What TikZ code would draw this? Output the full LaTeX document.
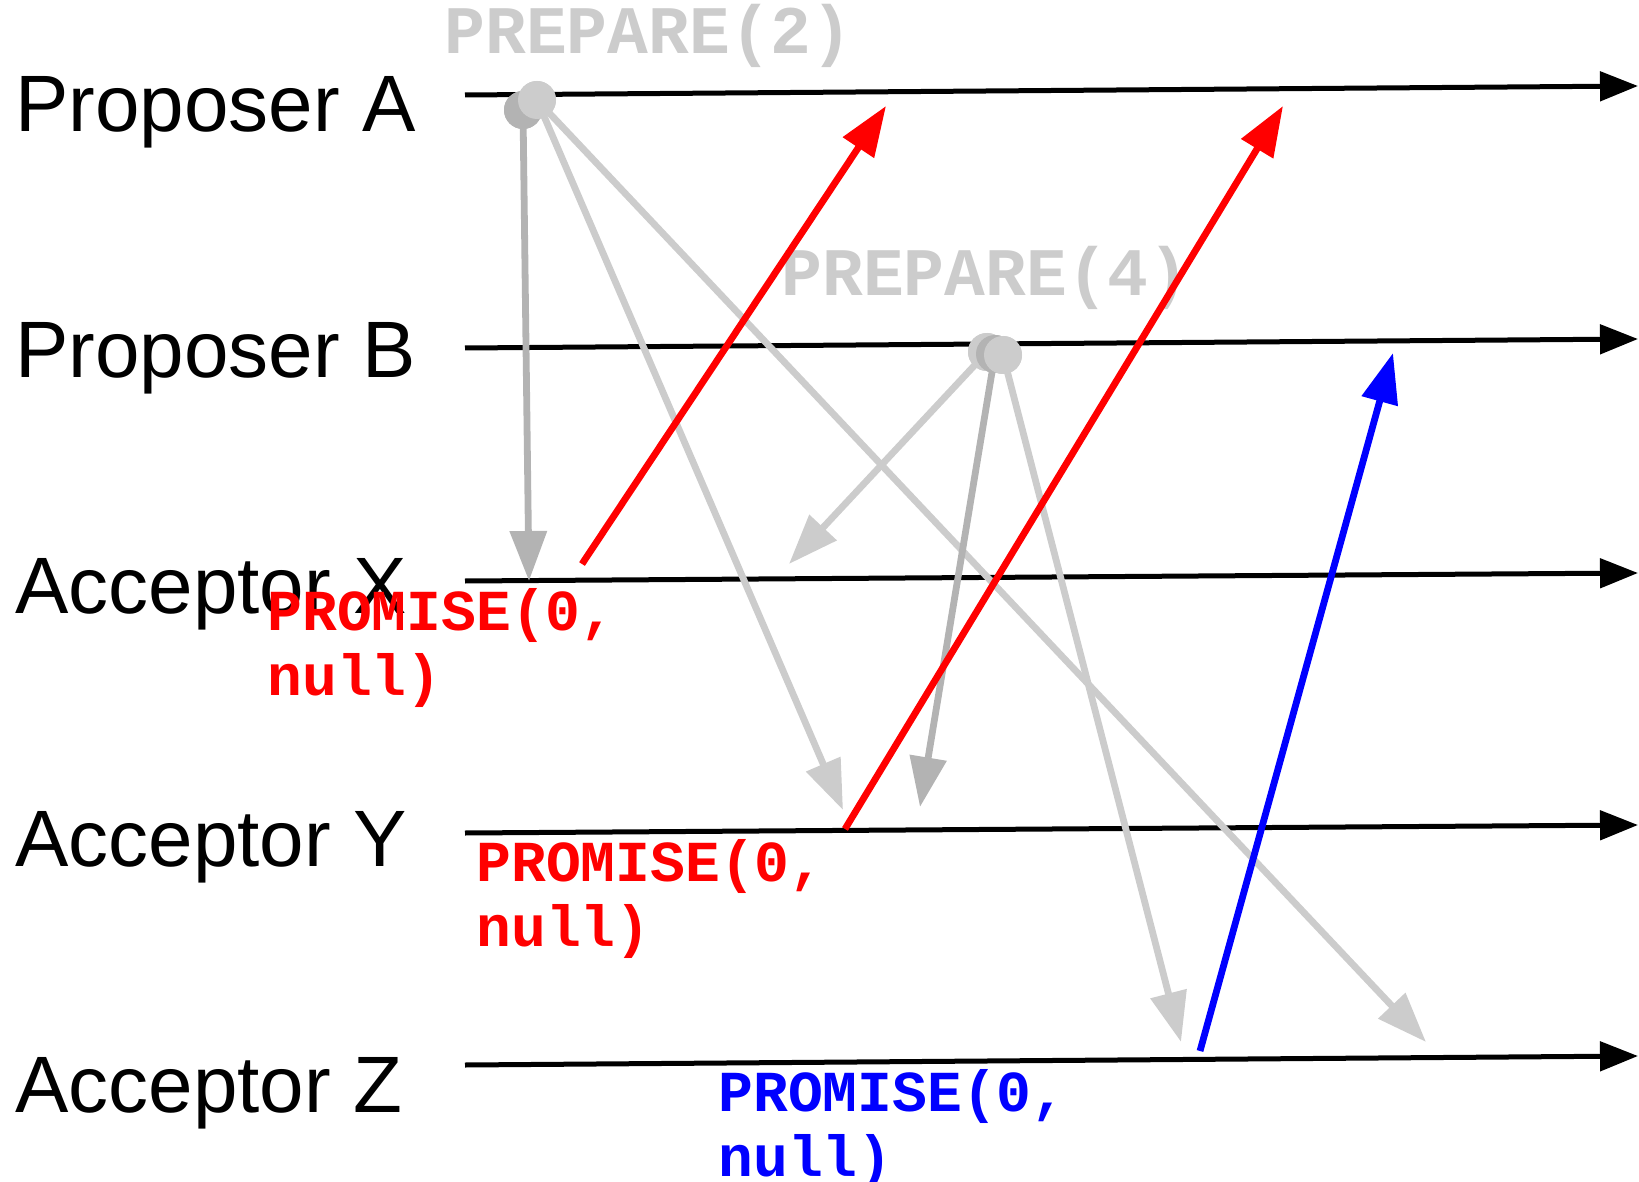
\documentclass[tikz,border=0pt]{standalone}
\usepackage{fontspec}
\setmainfont{Liberation Sans}
\newfontfamily\msgfont{Liberation Mono}
\usetikzlibrary{arrows.meta}
\definecolor{prepGray}{RGB}{204,204,204}
\definecolor{prepDark}{RGB}{179,179,179}
\definecolor{promRed}{RGB}{255,0,0}
\definecolor{promBlue}{RGB}{0,0,255}

\begin{document}
\begin{tikzpicture}[x=0.5pt,y=-0.5pt,
  role/.style={anchor=base west,inner sep=0pt,font=\fontsize{40}{48}\selectfont},
  timeline/.style={line width=2.5pt,-{Triangle[length=19pt,width=14.5pt]}},
  msg/.style={line width=3.4pt,-{Triangle[length=25pt,width=18pt]}},
  prepmsg/.style={anchor=base west,inner sep=0pt,text=prepGray,font=\msgfont\bfseries\fontsize{34}{40}\selectfont},
  prommsg/.style={anchor=base west,inner sep=0pt,align=left,font=\msgfont\bfseries\fontsize{29}{32.5}\selectfont},
  dot/.style={circle,inner sep=0pt,minimum size=19pt}]
\path[use as bounding box] (0,0) rectangle (1639,1182);

% Rollen
\node[role] (propA) at (15,132) {Proposer A};
\node[role] (propB) at (15,378) {Proposer B};
\node[role] (accX) at (15,613) {Acceptor X};
\node[role] (accY) at (15,866) {Acceptor Y};
\node[role] (accZ) at (15,1112) {Acceptor Z};

% Zeitachsen
\coordinate (aS) at (465,95);   \coordinate (aE) at (1638,86);
\coordinate (bS) at (465,348);  \coordinate (bE) at (1638,339);
\coordinate (xS) at (465,581);  \coordinate (xE) at (1638,573);
\coordinate (yS) at (465,833);  \coordinate (yE) at (1638,825);
\coordinate (zS) at (465,1065); \coordinate (zE) at (1638,1056);
\draw[timeline] (aS) -- (aE);
\draw[timeline] (bS) -- (bE);
\draw[timeline] (xS) -- (xE);
\draw[timeline] (yS) -- (yE);
\draw[timeline] (zS) -- (zE);

% Prepare-Nachrichten
\node[prepmsg] (prepA) at (444,54) {PREPARE(2)};
\node[prepmsg] (prepB) at (781,296) {PREPARE(4)};

\coordinate (aToX) at (529,581);
\coordinate (aToY) at (843,810);
\coordinate (aToZ) at (1426,1042);
\coordinate (bToX) at (789,564);
\coordinate (bToY) at (920,807);
\coordinate (bToZ) at (1181,1042);

\node[dot,fill=prepDark] (dA1) at (523,110) {};
\node[dot,fill=prepGray] (dA2) at (537,100) {};
\draw[msg,prepDark] (dA1.center) -- (aToX);
\draw[msg,prepGray] (dA2.center) -- (aToY);
\draw[msg,prepGray] (dA2.center) -- (aToZ);
\node[dot,fill=prepDark] at (dA1) {};
\node[dot,fill=prepGray] at (dA2) {};

\node[dot,fill=prepGray] (dB1) at (987,352) {};
\node[dot,fill=prepDark] (dB2) at (995,354) {};
\node[dot,fill=prepGray] (dB3) at (1003,355) {};
\draw[msg,prepGray] (dB1.center) -- (bToX);
\draw[msg,prepDark] (dB2.center) -- (bToY);
\draw[msg,prepGray] (dB3.center) -- (bToZ);
\node[dot,fill=prepGray] at (dB1) {};
\node[dot,fill=prepDark] at (dB2) {};
\node[dot,fill=prepGray] at (dB3) {};

% Promise-Antworten
\coordinate (xOut) at (582,564);  \coordinate (xToA) at (886,106);
\coordinate (yOut) at (845,829);  \coordinate (yToA) at (1283,106);
\coordinate (zOut) at (1200,1051); \coordinate (zToB) at (1393,353);
\draw[msg,promRed] (xOut) -- (xToA);
\draw[msg,promRed] (yOut) -- (yToA);
\draw[msg,promBlue] (zOut) -- (zToB);

% base = Grundlinie der zweiten Zeile
\node[prommsg,text=promRed] (promX) at (267,695) {PROMISE(0,\\null)};
\node[prommsg,text=promRed] (promY) at (476,946) {PROMISE(0,\\null)};
\node[prommsg,text=promBlue] (promZ) at (718,1176) {PROMISE(0,\\null)};
\end{tikzpicture}
\end{document}
